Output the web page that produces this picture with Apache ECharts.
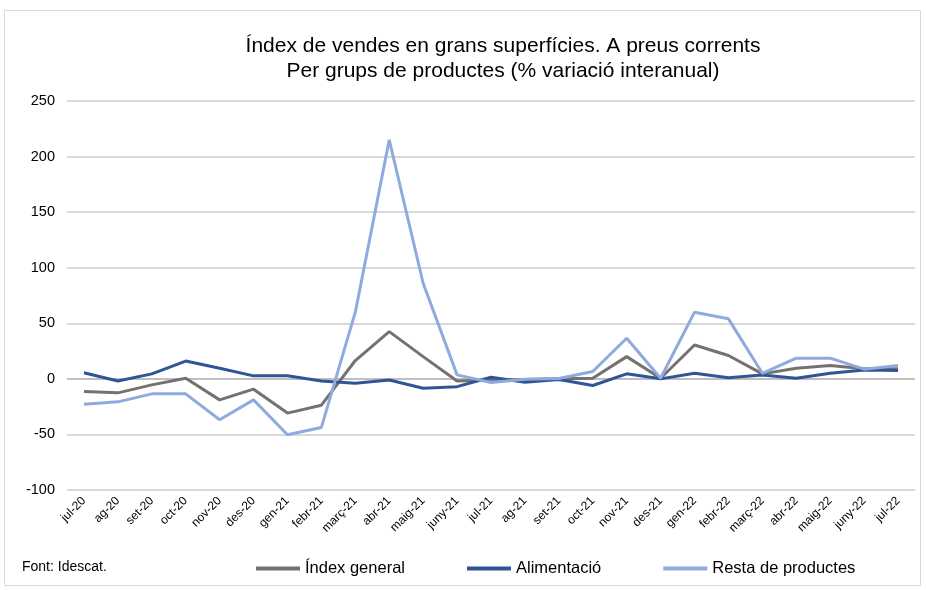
<!DOCTYPE html>
<html>
<head>
<meta charset="utf-8">
<script src="https://cdn.jsdelivr.net/npm/echarts@6/dist/echarts.min.js"></script>
<style>
  html, body { margin: 0; padding: 0; background: #fff; }
  #chart { width: 926px; height: 590px; }
</style>
</head>
<body>
<div id="chart"></div>
<script>
// categories (months)
const months = ['jul-20', 'ag-20', 'set-20', 'oct-20', 'nov-20', 'des-20', 'gen-21', 'febr-21', 'març-21', 'abr-21', 'maig-21', 'juny-21',
  'jul-21', 'ag-21', 'set-21', 'oct-21', 'nov-21', 'des-21', 'gen-22', 'febr-22', 'març-22', 'abr-22', 'maig-22', 'juny-22', 'jul-22'];

// % variació interanual
const indexGeneral = [-11.4, -12.6, -5.4, 0.6, -18.9, -9.3, -30.8, -23.7, 16.5, 42.5, 20, -2,
  -1, -0.5, 0, 0.5, 20, 0.5, 30.5, 21, 4.5, 9.6, 12, 9, 9];
const alimentacio = [5.5, -2, 4.5, 16, 9.5, 2.7, 2.7, -2, -4, -1, -8.5, -7,
  1.5, -3, -0.5, -6, 4.5, 0, 5, 1, 3.5, 0.5, 5, 8, 7.5];
const restaProductes = [-22.8, -20.7, -13.5, -13.5, -36.8, -18.9, -50.3, -43.7, 60, 215, 86, 3.6,
  -3.3, -0.3, 0.3, 6.6, 36.5, 0.6, 60, 54, 5, 18.6, 18.6, 8.7, 12];

const seriesNames = ['Índex general', 'Alimentació', 'Resta de productes'];
const seriesColors = ['#767171', '#2f5597', '#8faadc'];

const chart = echarts.init(document.getElementById('chart'));

const font = 'Liberation Sans, Arial, sans-serif';

const option = {
  backgroundColor: '#fff',
  animation: false,
  textStyle: { fontFamily: font },
  graphic: [
    {
      type: 'rect',
      shape: { x: 4.5, y: 10.5, width: 916, height: 575 },
      style: { fill: 'none', stroke: '#d9d9d9', lineWidth: 1 },
      silent: true
    },
    {
      type: 'text',
      left: 22,
      top: 560,
      style: { text: 'Font: Idescat.', fontSize: 14, fill: '#000', fontFamily: font }
    }
  ],
  title: {
    text: 'Índex de vendes en grans superfícies. A preus corrents\nPer grups de productes (% variació interanual)',
    left: 498,
    textAlign: 'center',
    top: 29,
    textStyle: {
      fontSize: 21,
      fontWeight: 'normal',
      color: '#000',
      lineHeight: 25,
      fontFamily: font
    }
  },
  legend: {
    left: 251,
    top: 555,
    itemWidth: 44,
    itemHeight: 4,
    itemGap: 62,
    icon: 'rect',
    data: seriesNames,
    textStyle: { fontSize: 16.5, color: '#000', fontFamily: font }
  },
  grid: {
    left: 67,
    right: 11,
    top: 101,
    bottom: 100
  },
  xAxis: {
    type: 'category',
    data: months,
    boundaryGap: true,
    axisLine: { show: false, onZero: false },
    axisTick: { show: false },
    axisLabel: {
      rotate: 45,
      interval: 0,
      fontSize: 12,
      color: '#000',
      margin: 9,
      fontFamily: font
    }
  },
  yAxis: {
    type: 'value',
    min: -100,
    max: 250,
    interval: 50,
    axisLine: { show: false },
    axisTick: { show: false },
    axisLabel: { fontSize: 14.5, color: '#000', margin: 12, fontFamily: font },
    splitLine: {
      lineStyle: {
        width: 2,
        color: ['#d9d9d9', '#d9d9d9', '#bfbfbf', '#d9d9d9', '#d9d9d9', '#d9d9d9', '#d9d9d9', '#d9d9d9']
      }
    }
  },
  series: [
    {
      name: seriesNames[0],
      type: 'line',
      data: indexGeneral,
      symbol: 'none',
      lineStyle: { width: 3, color: seriesColors[0] },
      itemStyle: { color: seriesColors[0] }
    },
    {
      name: seriesNames[1],
      type: 'line',
      data: alimentacio,
      symbol: 'none',
      lineStyle: { width: 3, color: seriesColors[1] },
      itemStyle: { color: seriesColors[1] }
    },
    {
      name: seriesNames[2],
      type: 'line',
      data: restaProductes,
      symbol: 'none',
      lineStyle: { width: 3, color: seriesColors[2] },
      itemStyle: { color: seriesColors[2] }
    }
  ]
};

chart.setOption(option);
</script>
</body>
</html>
